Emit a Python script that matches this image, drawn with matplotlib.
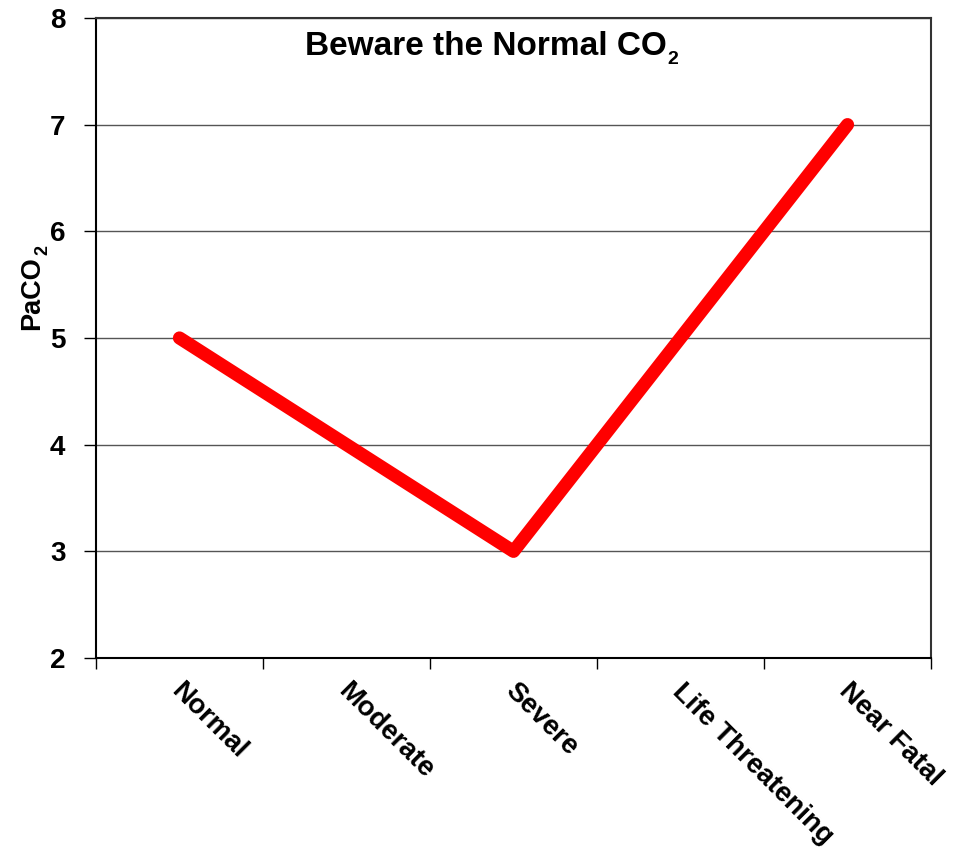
import matplotlib
matplotlib.use('Agg')
import matplotlib.pyplot as plt

plt.rcParams['font.family'] = ['Liberation Sans', 'DejaVu Sans']
plt.rcParams['font.weight'] = 'bold'

stages = ['Normal', 'Moderate', 'Severe', 'Life Threatening', 'Near Fatal']
paco2 = [5, 4, 3, 5, 7]
y_ticks = [2, 3, 4, 5, 6, 7, 8]

fig = plt.figure(figsize=(9.55, 8.52), dpi=100)
ax = fig.add_axes([0.1005, 0.2277, 0.8744, 0.7512])

# categories sit between the tick marks
x = [i + 0.5 for i in range(len(stages))]
ax.plot(x, paco2, color='#ff0000', linewidth=9.5, solid_capstyle='round',
        solid_joinstyle='round', zorder=3)

ax.set_xlim(0, len(stages))
ax.set_ylim(2, 8)
ax.set_yticks(y_ticks)
ax.set_xticks(range(len(stages) + 1))
ax.set_xticklabels([])
ax.yaxis.grid(True, color='#555555', linewidth=1)
ax.set_axisbelow(True)

ax.tick_params(axis='y', direction='out', length=9, width=1, labelsize=20, pad=13)
ax.tick_params(axis='x', direction='out', length=8, width=1)

for xi, name in zip(x, stages):
    ax.text(xi + 0.03, 1.81, name, rotation=-45, rotation_mode='anchor',
            ha='left', va='top', fontsize=20, fontweight='bold')

for side in ['left', 'bottom']:
    ax.spines[side].set_color('black')
    ax.spines[side].set_linewidth(1.5)
for side in ['top', 'right']:
    ax.spines[side].set_color('#333333')
    ax.spines[side].set_linewidth(1.5)

# title and y label with a hand-placed subscript 2
ax.text(0.2503, 0.942, 'Beware the Normal CO', transform=ax.transAxes,
        ha='left', va='baseline', fontsize=24, fontweight='bold')
ax.text(0.6838, 0.928, '2', transform=ax.transAxes,
        ha='left', va='baseline', fontsize=14, fontweight='bold')

ax.text(-0.0683, 0.5125, 'PaCO', transform=ax.transAxes, rotation=90,
        rotation_mode='anchor', ha='left', va='baseline', fontsize=19.5, fontweight='bold')
ax.text(-0.0587, 0.6297, '2', transform=ax.transAxes, rotation=90,
        rotation_mode='anchor', ha='left', va='baseline', fontsize=13, fontweight='bold')

fig.savefig('out.png', dpi=100)
